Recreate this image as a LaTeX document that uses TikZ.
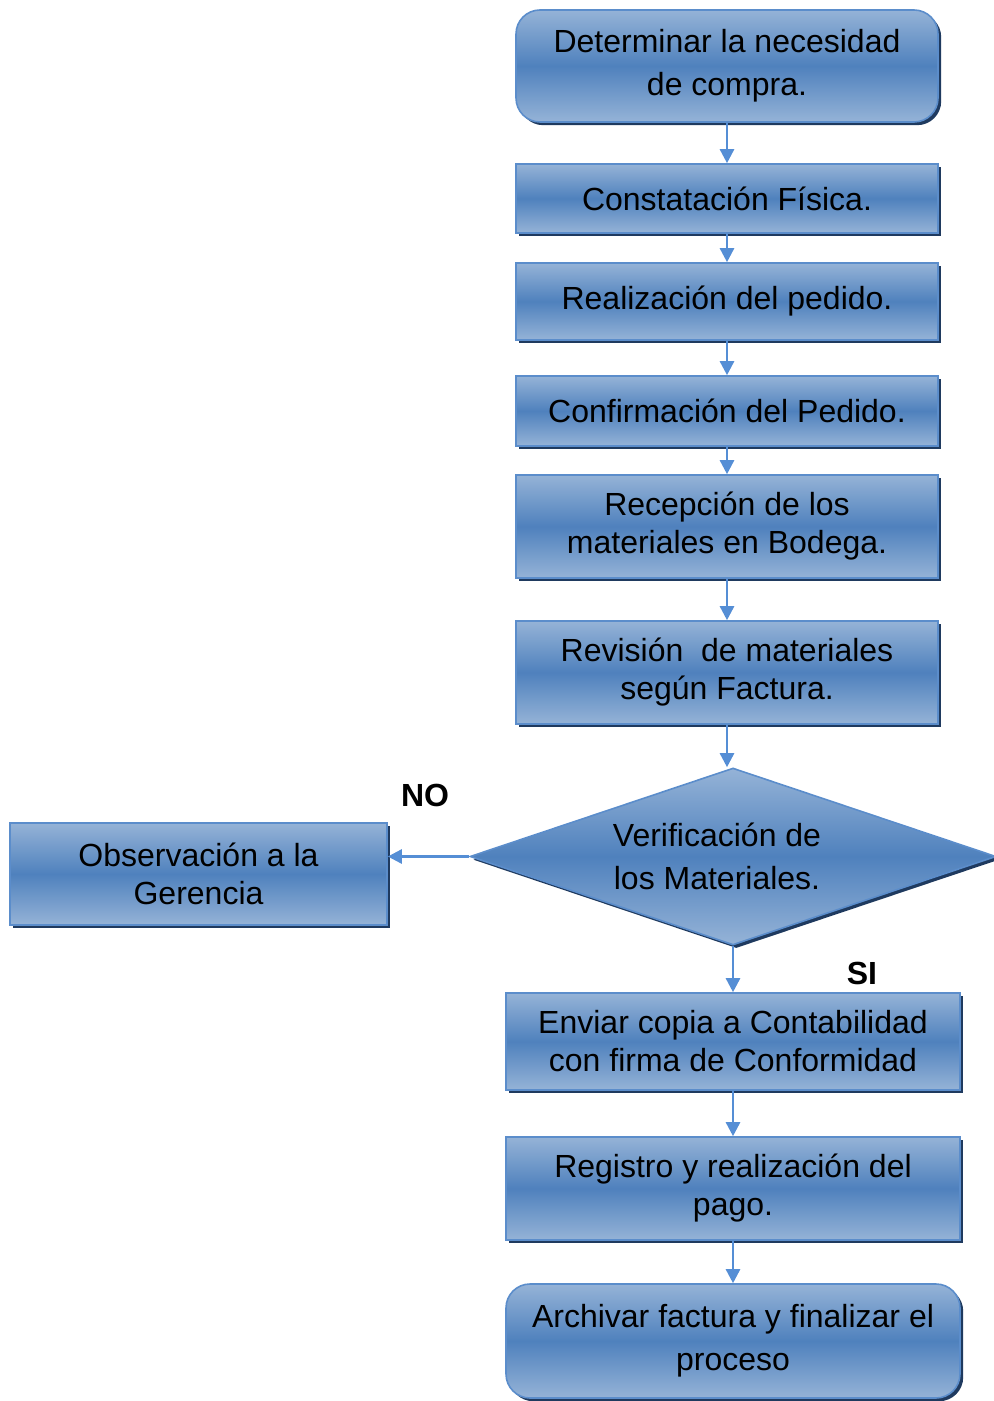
\documentclass[tikz,border=0pt]{standalone}
\usepackage{fontspec}
\setmainfont{Liberation Sans}
\usetikzlibrary{shapes.geometric,shadows,arrows.meta}

\definecolor{boxlight}{HTML}{95B3D7}
\definecolor{boxmid}{HTML}{4F81BD}
\definecolor{boxline}{HTML}{5B8DCB}
\definecolor{shadowblue}{HTML}{1F3A5F}
\definecolor{flowblue}{HTML}{558ED5}

\tikzset{
	paso/.style={draw=boxline,line width=0.8pt,top color=boxlight,bottom color=boxlight,middle color=boxmid,
		drop shadow={shadow xshift=1.6pt,shadow yshift=-1.6pt,fill=shadowblue,opacity=1},
		align=center,inner sep=2pt,minimum width=211pt,font=\fontsize{16}{19}\selectfont},
	pasored/.style={paso,rounded corners=12pt,font=\fontsize{16}{21.5}\selectfont},
	decision/.style={paso,diamond,aspect=3,minimum width=263pt,minimum height=88.5pt,inner sep=0pt,
		font=\fontsize{16}{21.5}\selectfont},
	flujo/.style={draw=flowblue,line width=1.3pt,-{Triangle[width=7pt,length=7pt]}},
	rotulo/.style={font=\fontsize{16}{18}\selectfont\bfseries}
}

\begin{document}
\begin{tikzpicture}[x=0.5pt,y=-0.5pt]
	\useasboundingbox (0,0) rectangle (994,1401);
	% pasos del proceso
	\node[pasored,minimum height=56pt] (det) at (727,66) {Determinar la necesidad\\de compra.};
	\node[paso,minimum height=34.5pt] (con) at (727,198.5) {Constatación Física.};
	\node[paso,minimum height=38.5pt] (rea) at (727,301.5) {Realización del pedido.};
	\node[paso,minimum height=35pt] (cnf) at (727,411) {Confirmación del Pedido.};
	\node[paso,minimum height=51.5pt] (rec) at (727,526.5) {Recepción de los\\materiales en Bodega.};
	\node[paso,minimum height=51.5pt] (rev) at (727,672.5) {Revisión\ \ de materiales\\según Factura.};
	\node[decision] (ver) at (733,856.5) {Verificación de\hspace*{16pt}\\los Materiales.\hspace*{16pt}};
	\node[paso,minimum width=188.5pt,minimum height=51pt] (obs) at (198.5,874) {Observación a la\\Gerencia};
	\node[paso,minimum width=227pt,minimum height=48.5pt] (env) at (733,1041.5) {Enviar copia a Contabilidad\\con firma de Conformidad};
	\node[paso,minimum width=227pt,minimum height=51.5pt] (reg) at (733,1188.5) {Registro y realización del\\pago.};
	\node[pasored,minimum width=227pt,minimum height=57pt] (arc) at (733,1341) {Archivar factura y finalizar el\\proceso};
	% rotulos
	\node[rotulo] (no) at (425,795) {NO};
	\node[rotulo] (si) at (862,973) {SI};
	% flechas
	\draw[flujo] (det) -- (con);
	\draw[flujo] (con) -- (rea);
	\draw[flujo] (rea) -- (cnf);
	\draw[flujo] (cnf) -- (rec);
	\draw[flujo] (rec) -- (rev);
	\draw[flujo] (rev.south) -- (rev.south |- ver.north);
	\draw[flujo] (ver.west) -- (ver.west -| obs.east);
	\draw[flujo] (ver) -- (env);
	\draw[flujo] (env) -- (reg);
	\draw[flujo] (reg) -- (arc);
\end{tikzpicture}
\end{document}
